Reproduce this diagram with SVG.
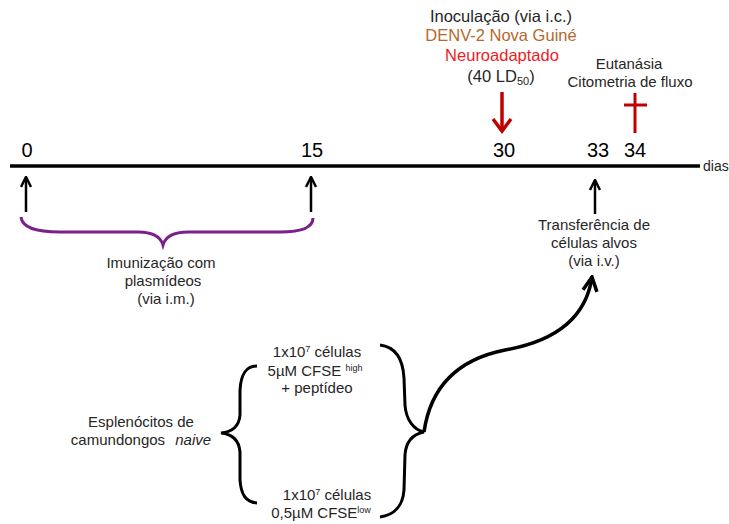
<svg xmlns="http://www.w3.org/2000/svg" width="729" height="524" viewBox="0 0 729 524">
<defs>
<style>
text{font-family:"Liberation Sans",Arial,sans-serif;fill:#262626;}
.t{font-size:15px;}
.num{font-size:20px;fill:#000;}
.ln{stroke:#000;stroke-width:2.5;fill:none;}
.br{stroke:#000;stroke-width:3;fill:none;}
</style>
<marker id="ah" viewBox="0 0 10 10" refX="9" refY="5" markerWidth="5" markerHeight="5" orient="auto" markerUnits="strokeWidth">
<path d="M1,1 L9,5 L1,9" fill="none" stroke="#000" stroke-width="2" stroke-linejoin="miter"/>
</marker>
</defs>
<rect width="729" height="524" fill="#fff"/>
<g id="timeline">
<line x1="10" y1="166" x2="700" y2="166" stroke="#000" stroke-width="3.5"/>
<text x="703" y="171" style="font-size:14px">dias</text>
<text class="num" x="27" y="157" text-anchor="middle">0</text>
<text class="num" x="312" y="157" text-anchor="middle">15</text>
<text class="num" x="504" y="157" text-anchor="middle">30</text>
<text class="num" x="598" y="157" text-anchor="middle">33</text>
<text class="num" x="635" y="157" text-anchor="middle">34</text>
</g>
<g id="inoculacao">
<text x="501" y="22" text-anchor="middle" style="font-size:16.5px">Inoculação (via i.c.)</text>
<text x="501" y="41" text-anchor="middle" style="font-size:16.5px;fill:#b5682e">DENV-2 Nova Guiné</text>
<text x="502" y="61" text-anchor="middle" style="font-size:16.5px;fill:#ee1c24">Neuroadaptado</text>
<text x="501" y="82" text-anchor="middle" style="font-size:16.5px">(40 LD<tspan style="font-size:11px" dy="3">50</tspan><tspan dy="-3">)</tspan></text>
<line x1="502" y1="92" x2="502" y2="130" stroke="#c00000" stroke-width="3.5"/>
<path d="M493,119 L502,131 L511,119" fill="none" stroke="#c00000" stroke-width="3.5"/>
</g>
<g id="eutanasia">
<text class="t" x="629" y="69" text-anchor="middle">Eutanásia</text>
<text class="t" x="630" y="87" text-anchor="middle">Citometria de fluxo</text>
<line x1="635" y1="93" x2="635" y2="133" stroke="#c00000" stroke-width="3"/>
<line x1="624" y1="105" x2="647" y2="105" stroke="#c00000" stroke-width="3"/>
</g>
<g id="imunizacao">
<text class="t" x="161" y="268" text-anchor="middle">Imunização com</text>
<text class="t" x="163" y="286" text-anchor="middle">plasmídeos</text>
<text class="t" x="166" y="304" text-anchor="middle">(via i.m.)</text>
</g>
<g id="transferencia">
<text class="t" x="594" y="230" text-anchor="middle">Transferência de</text>
<text class="t" x="594" y="248" text-anchor="middle">células alvos</text>
<text class="t" x="594" y="266" text-anchor="middle">(via i.v.)</text>
</g>
<g id="esplenocitos">
<text class="t" x="141" y="427" text-anchor="middle">Esplenócitos de</text>
<text class="t" x="141" y="445" text-anchor="middle">camundongos <tspan font-style="italic" dx="6">naive</tspan></text>
</g>
<g id="grupo-high">
<text class="t" x="317" y="357" text-anchor="middle">1x10<tspan style="font-size:9px" dy="-5">7</tspan><tspan dy="5"> células</tspan></text>
<text class="t" x="315" y="376" text-anchor="middle">5µM CFSE <tspan style="font-size:9px" dy="-5">high</tspan></text>
<text class="t" x="317" y="393" text-anchor="middle">+ peptídeo</text>
</g>
<g id="grupo-low">
<text class="t" x="327" y="500" text-anchor="middle">1x10<tspan style="font-size:9px" dy="-5">7</tspan><tspan dy="5"> células</tspan></text>
<text class="t" x="321" y="518" text-anchor="middle">0,5µM CFSE<tspan style="font-size:9px" dy="-5">low</tspan></text>
</g>
<g id="connectors">
<line class="ln" x1="26" y1="212" x2="26" y2="177" marker-end="url(#ah)"/>
<line class="ln" x1="311" y1="212" x2="311" y2="177" marker-end="url(#ah)"/>
<line class="ln" x1="595" y1="214" x2="595" y2="180" marker-end="url(#ah)"/>
<path d="M21,217 C22,228 36,232 60,232 L138,232 C154,232 161,238 163,245 C165,238 172,232 188,232 L280,232 C300,232 313,228 313,218" fill="none" stroke="#7b1f8a" stroke-width="3"/>
<path class="br" d="M257,366 C246,366 241,374 240,390 L240,415 C239,427 232,432 221,433 C232,434 239,440 240,452 L240,480 C241,495 246,502 257,503"/>
<path class="br" d="M380,345 C396,347 403,360 404,378 L405,405 C406,420 414,430 424,432 C414,434 406,440 405,455 L404,490 C403,505 395,515 380,517"/>
<path d="M424,432 C430,390 455,360 505,350 C545,343 585,325 592,277" fill="none" stroke="#000" stroke-width="3.5" marker-end="url(#ah)"/>
</g>
</svg>
